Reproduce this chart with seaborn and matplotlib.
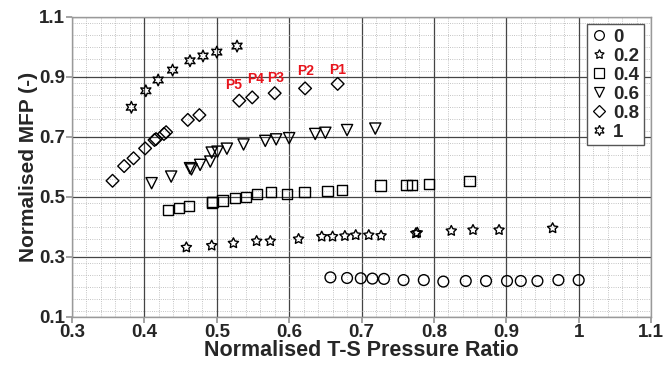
import matplotlib
matplotlib.use("Agg")
import matplotlib.pyplot as plt
from matplotlib.ticker import MultipleLocator
from matplotlib.lines import Line2D
import seaborn as sns
import pandas as pd

# ---- data ----
x_0 = [0.657, 0.680, 0.699, 0.715, 0.731, 0.758, 0.786, 0.813, 0.844, 0.872, 0.901, 0.920, 0.943, 0.972, 1.000]
y_0 = [0.232, 0.230, 0.229, 0.228, 0.227, 0.223, 0.223, 0.218, 0.220, 0.220, 0.220, 0.220, 0.220, 0.223, 0.223]

x_02 = [0.458, 0.493, 0.523, 0.555, 0.574, 0.613, 0.645, 0.660, 0.677, 0.692, 0.710, 0.727, 0.775, 0.777, 0.824, 0.854, 0.890, 0.964]
y_02 = [0.332, 0.338, 0.346, 0.353, 0.353, 0.360, 0.368, 0.368, 0.370, 0.373, 0.373, 0.371, 0.379, 0.381, 0.387, 0.390, 0.390, 0.396]

x_04 = [0.433, 0.448, 0.462, 0.493, 0.494, 0.508, 0.525, 0.540, 0.556, 0.575, 0.597, 0.621, 0.653, 0.673, 0.726, 0.762, 0.770, 0.793, 0.849]
y_04 = [0.457, 0.464, 0.470, 0.482, 0.484, 0.488, 0.496, 0.501, 0.509, 0.516, 0.510, 0.516, 0.521, 0.523, 0.538, 0.541, 0.541, 0.544, 0.553]

x_06 = [0.410, 0.437, 0.463, 0.465, 0.477, 0.491, 0.493, 0.501, 0.514, 0.537, 0.567, 0.582, 0.600, 0.636, 0.650, 0.680, 0.719]
y_06 = [0.546, 0.568, 0.596, 0.592, 0.607, 0.618, 0.648, 0.651, 0.661, 0.675, 0.687, 0.692, 0.696, 0.710, 0.714, 0.723, 0.728]

x_08 = [0.356, 0.372, 0.385, 0.401, 0.414, 0.416, 0.427, 0.430, 0.460, 0.476, 0.531, 0.549, 0.580, 0.622, 0.667]
y_08 = [0.554, 0.603, 0.629, 0.662, 0.690, 0.693, 0.710, 0.716, 0.757, 0.773, 0.821, 0.832, 0.846, 0.862, 0.877]

x_1 = [0.382, 0.402, 0.419, 0.439, 0.463, 0.481, 0.500, 0.528]
y_1 = [0.799, 0.854, 0.890, 0.923, 0.954, 0.970, 0.983, 1.003]

series_labels = ["0", "0.2", "0.4", "0.6", "0.8", "1"]

point_labels = ["P1", "P2", "P3", "P4", "P5"]
point_label_x = [0.667, 0.623, 0.582, 0.553, 0.523]
point_label_y = [0.923, 0.920, 0.898, 0.893, 0.874]

xs = [x_0, x_02, x_04, x_06, x_08, x_1]
ys = [y_0, y_02, y_04, y_06, y_08, y_1]
markers = ["o", (5, 1, 0), "s", "v", "D", (6, 1, 0)]
sizes = [60, 60, 55, 65, 42, 70]

sns.set_theme(style="white")
plt.rcParams["font.family"] = ["Liberation Sans", "DejaVu Sans"]

fig = plt.figure(figsize=(6.63, 3.71), dpi=100)
ax = fig.add_axes([0.1086, 0.1456, 0.8734, 0.8086])

for xv, yv, m, s in zip(xs, ys, markers, sizes):
    df = pd.DataFrame({"x": xv, "y": yv})
    sns.scatterplot(data=df, x="x", y="y", marker=m, s=s, facecolor="none",
                    edgecolor="black", linewidth=1.0, ax=ax, legend=False, zorder=3)

for t, tx, ty in zip(point_labels, point_label_x, point_label_y):
    ax.text(tx, ty, t, color="#e8141c", fontsize=10, fontweight="bold",
            ha="center", va="center", zorder=4)

ax.set_xlim(0.3, 1.1)
ax.set_ylim(0.1, 1.1)
ax.xaxis.set_minor_locator(MultipleLocator(0.02))
ax.yaxis.set_minor_locator(MultipleLocator(0.04))
ax.set_yticks([0.1, 0.3, 0.5, 0.7, 0.9, 1.1])
ax.set_xticks([0.3, 0.4, 0.5, 0.6, 0.7, 0.8, 0.9, 1.0, 1.1])
ax.set_xticklabels(["0.3", "0.4", "0.5", "0.6", "0.7", "0.8", "0.9", "1", "1.1"])
ax.set_yticklabels(["0.1", "0.3", "0.5", "0.7", "0.9", "1.1"])

ax.grid(which="major", color="#444444", linewidth=0.9, linestyle="-")
ax.grid(which="minor", color="#b0b0b0", linewidth=0.6, linestyle=":")
ax.set_axisbelow(True)
for sp in ax.spines.values():
    sp.set_color("#999999")
    sp.set_linewidth(1.0)

ax.tick_params(axis="both", which="major", labelsize=13.5, length=4, color="#999999",
               direction="out", left=True, bottom=True, pad=1)
ax.tick_params(axis="both", which="minor", length=0)
for lab in ax.get_xticklabels() + ax.get_yticklabels():
    lab.set_fontweight("bold")

ax.set_xlabel("Normalised T-S Pressure Ratio", fontsize=15.5, fontweight="bold", labelpad=-1)
ax.set_ylabel("Normalised MFP (-)", fontsize=15, fontweight="bold", labelpad=1)

handles = [Line2D([0], [0], marker=m, linestyle="none", markerfacecolor="none",
                  markeredgecolor="black", markersize=ms, markeredgewidth=0.9)
           for m, ms in zip(markers, [7, 7, 6.5, 7, 6.5, 7.5])]
leg = ax.legend(handles, series_labels, loc="upper right", bbox_to_anchor=(0.994, 0.99),
                frameon=True, fancybox=False, edgecolor="#555555", framealpha=1,
                prop={"weight": "bold", "size": 13.5}, handlelength=0.8, handletextpad=0.35,
                labelspacing=0.1, borderpad=0.25, borderaxespad=0.2)
leg.get_frame().set_linewidth(1.0)

fig.savefig("out.png", dpi=100)
